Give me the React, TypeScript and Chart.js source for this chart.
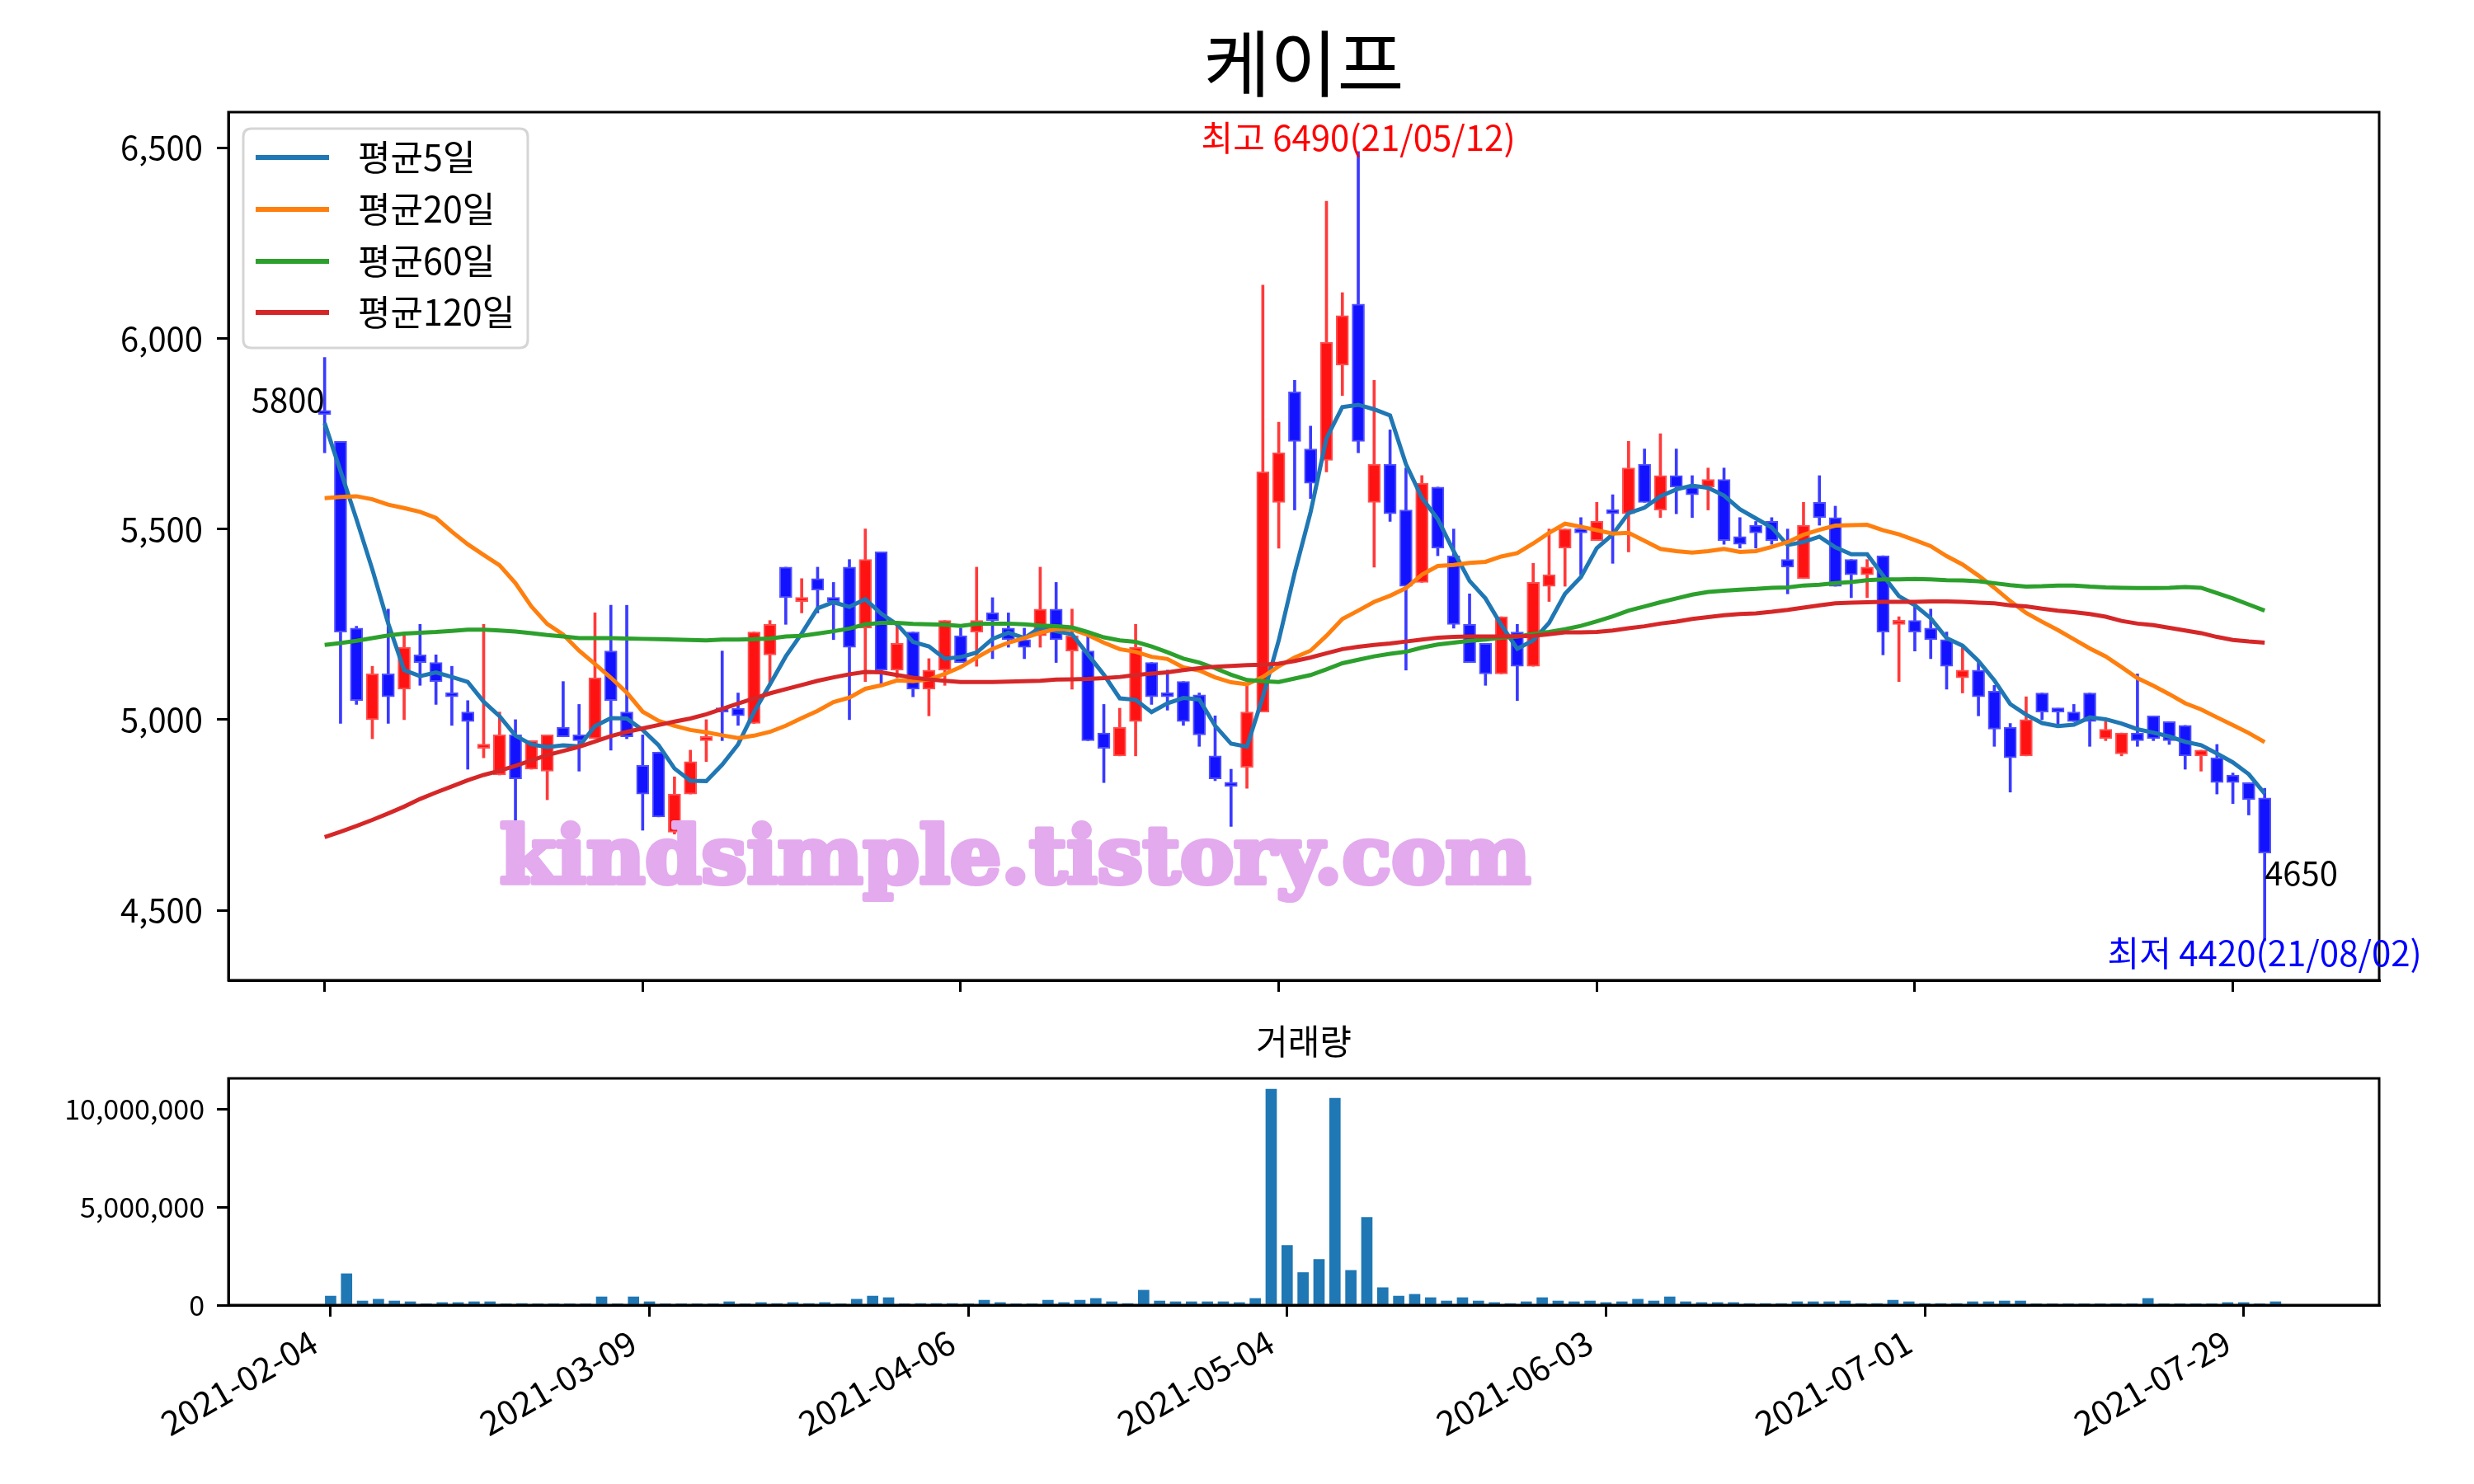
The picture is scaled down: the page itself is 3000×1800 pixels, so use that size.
import React, { useEffect, useRef } from 'react';
import { Chart, registerables } from 'chart.js';

Chart.register(...registerables);

const FONT = "'Noto Sans CJK KR', 'Noto Sans', sans-serif";

const TITLE = '케이프';
const VOLUME_TITLE = '거래량';
const LEGEND_LABELS = ['평균5일', '평균20일', '평균60일', '평균120일'];
const LINE_COLORS = ['#1f77b4', '#ff7f0e', '#2ca02c', '#d62728'];
const HIGH_LABEL = '최고 6490(21/05/12)';
const LOW_LABEL = '최저 4420(21/08/02)';
const HIGH_INDEX = 65;
const LOW_INDEX = 122;
const WATERMARK = 'kindsimple.tistory.com';

const TICK_INDEX = [0, 20, 40, 60, 80, 100, 120];
const TICK_LABELS = ['2021-02-04', '2021-03-09', '2021-04-06', '2021-05-04', '2021-06-03', '2021-07-01', '2021-07-29'];
const PRICE_TICKS = [4500, 5000, 5500, 6000, 6500];
const VOLUME_TICKS = [0, 5000000, 10000000];

const OPEN = [
  5800, 5730, 5240, 5000, 5120, 5080, 5170, 5150, 5065, 5020,
  4925, 4855, 4960, 4870, 4865, 4980, 4960, 4950, 5180, 5020,
  4880, 4915, 4705, 4805, 4945, 5030, 5030, 4990, 5170, 5400,
  5310, 5370, 5310, 5400, 5240, 5440, 5130, 5230, 5080, 5130,
  5220, 5230, 5280, 5240, 5210, 5220, 5290, 5180, 5180, 4965,
  4905, 4995, 5150, 5065, 5100, 5065, 4905, 4830, 4875, 5020,
  5570, 5860, 5710, 5680, 5930, 6090, 5570, 5670, 5550, 5360,
  5610, 5430, 5250, 5200, 5120, 5230, 5140, 5350, 5450, 5500,
  5470, 5540, 5540, 5670, 5550, 5640, 5610, 5610, 5630, 5480,
  5510, 5520, 5420, 5370, 5570, 5530, 5420, 5380, 5430, 5250,
  5260, 5240, 5210, 5110, 5130, 5075, 4980, 4905, 5070, 5020,
  5020, 5070, 4950, 4910, 4965, 5010, 4995, 4985, 4905, 4900,
  4855, 4835, 4795,
];
const HIGH = [
  5950, 5730, 5245, 5140, 5290, 5220, 5250, 5170, 5140, 5050,
  5250, 5020, 5000, 4945, 4960, 5100, 5040, 5280, 5300, 5300,
  4960, 4915, 4850, 4920, 5000, 5180, 5070, 5230, 5260, 5400,
  5370, 5400, 5360, 5420, 5500, 5440, 5250, 5230, 5160, 5260,
  5240, 5400, 5320, 5280, 5240, 5400, 5360, 5290, 5220, 5040,
  5030, 5250, 5150, 5130, 5100, 5070, 5010, 4870, 5090, 6140,
  5780, 5890, 5770, 6360, 6120, 6490, 5890, 5760, 5660, 5640,
  5610, 5500, 5330, 5200, 5270, 5250, 5410, 5500, 5500, 5530,
  5570, 5590, 5730, 5710, 5750, 5710, 5640, 5660, 5660, 5530,
  5520, 5530, 5500, 5570, 5640, 5560, 5420, 5420, 5430, 5270,
  5300, 5290, 5230, 5190, 5150, 5090, 4990, 5060, 5070, 5030,
  5040, 5070, 4995, 4965, 5120, 5010, 4995, 4985, 4920, 4935,
  4860, 4835, 4820,
];
const LOW = [
  5700, 4990, 5040, 4950, 4990, 5000, 5090, 5040, 4985, 4870,
  4900, 4855, 4735, 4870, 4790, 4955, 4865, 4950, 4920, 4950,
  4710, 4745, 4700, 4805, 4890, 4945, 4985, 4990, 5090, 5250,
  5280, 5280, 5210, 5000, 5100, 5090, 5110, 5060, 5010, 5090,
  5150, 5140, 5160, 5190, 5160, 5190, 5150, 5080, 4945, 4835,
  4905, 4905, 5040, 5025, 4985, 4930, 4840, 4720, 4820, 5020,
  5450, 5550, 5580, 5650, 5850, 5700, 5400, 5520, 5130, 5360,
  5430, 5240, 5150, 5090, 5120, 5050, 5140, 5310, 5350, 5380,
  5470, 5410, 5440, 5570, 5530, 5540, 5530, 5550, 5460, 5450,
  5450, 5460, 5330, 5370, 5510, 5350, 5320, 5320, 5170, 5100,
  5180, 5160, 5080, 5070, 5010, 4930, 4810, 4905, 5000, 4980,
  4995, 4930, 4945, 4905, 4930, 4945, 4935, 4870, 4865, 4805,
  4780, 4750, 4420,
];
const CLOSE = [
  5800, 5230, 5050, 5120, 5060, 5190, 5150, 5100, 5060, 4995,
  4930, 4960, 4845, 4945, 4960, 4955, 4945, 5110, 5050, 4955,
  4805, 4745, 4805, 4890, 4950, 5020, 5010, 5230, 5250, 5320,
  5320, 5340, 5310, 5190, 5420, 5130, 5200, 5080, 5130, 5260,
  5150, 5260, 5260, 5210, 5190, 5290, 5210, 5220, 4945, 4925,
  4980, 5190, 5060, 5060, 4995, 4960, 4845, 4825, 5020, 5650,
  5700, 5730, 5620, 5990, 6060, 5730, 5670, 5540, 5350, 5620,
  5450, 5250, 5150, 5120, 5270, 5140, 5360, 5380, 5500, 5490,
  5520, 5540, 5660, 5570, 5640, 5610, 5590, 5630, 5470, 5460,
  5490, 5470, 5400, 5510, 5530, 5350, 5380, 5400, 5230, 5260,
  5230, 5210, 5140, 5130, 5060, 4975, 4900, 5000, 5020, 5020,
  4995, 4995, 4975, 4965, 4945, 4950, 4945, 4905, 4920, 4835,
  4835, 4790, 4650,
];
const VOLUME = [
  460000, 1600000, 210000, 300000, 210000, 170000, 40000, 130000, 130000, 170000,
  170000, 40000, 80000, 15000, 40000, 10000, 10000, 420000, 40000, 420000,
  170000, 10000, 10000, 10000, 40000, 170000, 15000, 130000, 80000, 130000,
  80000, 130000, 40000, 300000, 460000, 380000, 40000, 80000, 80000, 80000,
  40000, 250000, 130000, 10000, 40000, 250000, 130000, 250000, 340000, 170000,
  80000, 760000, 210000, 170000, 170000, 170000, 170000, 130000, 340000, 11010000,
  3040000, 1660000, 2330000, 10550000, 1770000, 4470000, 890000, 460000, 550000, 380000,
  210000, 380000, 210000, 130000, 80000, 170000, 380000, 210000, 170000, 210000,
  130000, 170000, 300000, 210000, 420000, 170000, 130000, 130000, 130000, 80000,
  80000, 80000, 170000, 170000, 170000, 210000, 80000, 80000, 250000, 170000,
  80000, 80000, 80000, 170000, 170000, 210000, 210000, 10000, 10000, 40000,
  40000, 40000, 10000, 10000, 340000, 10000, 40000, 40000, 10000, 130000,
  130000, 40000, 170000,
];
const MA5 = [
  5778, 5652, 5526, 5394, 5252, 5130, 5114, 5124, 5112, 5099,
  5047, 5009, 4958, 4935, 4928, 4933, 4930, 4983, 5004, 5003,
  4973, 4933, 4872, 4840, 4839, 4882, 4935, 5020, 5092, 5166,
  5226, 5292, 5308, 5296, 5316, 5278, 5250, 5204, 5192, 5160,
  5164, 5176, 5212, 5228, 5214, 5242, 5232, 5224, 5171, 5118,
  5056, 5052, 5020, 5043, 5057, 5053, 4984, 4937, 4929, 5060,
  5208, 5385, 5544, 5738, 5820, 5826, 5814, 5798, 5670, 5582,
  5526, 5442, 5364, 5318, 5248, 5186, 5208, 5254, 5330, 5374,
  5450, 5486, 5542, 5556, 5586, 5604, 5614, 5608, 5588, 5552,
  5528, 5504, 5458, 5466, 5480, 5452, 5434, 5434, 5378, 5324,
  5300, 5266, 5214, 5194, 5154, 5103, 5041, 5013, 4991, 4983,
  4987, 5006, 5001, 4990, 4975, 4966, 4956, 4942, 4933, 4911,
  4888, 4857, 4806,
];
const MA20 = [
  5581, 5584, 5586, 5578, 5564, 5555, 5545, 5529, 5493, 5460,
  5432, 5405, 5358, 5297, 5251, 5223, 5181, 5146, 5110, 5071,
  5021, 4997, 4984, 4973, 4967, 4959, 4952, 4958, 4968, 4984,
  5004, 5023, 5046, 5058, 5081, 5090, 5103, 5101, 5105, 5120,
  5138, 5163, 5186, 5202, 5214, 5228, 5238, 5237, 5222, 5202,
  5185, 5178, 5165, 5159, 5137, 5129, 5111, 5098, 5093, 5112,
  5140, 5163, 5181, 5220, 5264, 5286, 5309, 5325, 5345, 5380,
  5403, 5406, 5411, 5414, 5428, 5437, 5462, 5490, 5514, 5506,
  5497, 5488, 5490, 5469, 5448, 5442, 5438, 5442, 5448, 5440,
  5442, 5453, 5466, 5485, 5498, 5509, 5510, 5511, 5497, 5486,
  5471, 5455, 5429, 5407, 5378, 5346, 5311, 5280, 5257, 5235,
  5211, 5187, 5166, 5138, 5109, 5089, 5067, 5043, 5027, 5006,
  4986, 4965, 4941,
];
const MA60 = [
  5196, 5201, 5207, 5214, 5221, 5226, 5228, 5230, 5233, 5236,
  5236, 5234, 5231, 5227, 5222, 5218, 5214, 5214, 5214, 5213,
  5212, 5211, 5210, 5209, 5208, 5210, 5210, 5211, 5213, 5218,
  5220, 5226, 5232, 5239, 5250, 5254, 5254, 5251, 5250, 5249,
  5246, 5251, 5252, 5252, 5250, 5247, 5245, 5242, 5230, 5216,
  5208, 5204, 5192, 5177, 5160, 5150, 5135, 5118, 5104, 5101,
  5099, 5108, 5117, 5132, 5148, 5157, 5166, 5173, 5178, 5189,
  5197, 5202, 5207, 5210, 5215, 5218, 5225, 5230, 5237, 5246,
  5258, 5271, 5286, 5297, 5308, 5318, 5328, 5335, 5338, 5341,
  5343, 5346, 5347, 5352, 5354, 5358, 5361, 5366, 5368, 5368,
  5369, 5368, 5366, 5365, 5363, 5358, 5353, 5349, 5350, 5352,
  5352, 5349, 5347, 5346, 5345, 5345, 5346, 5348, 5346, 5332,
  5318, 5302, 5286,
];
const MA120 = [
  4692, 4706, 4721, 4737, 4754, 4772, 4792, 4809, 4825, 4841,
  4855, 4866, 4879, 4893, 4907, 4918, 4929, 4943, 4957, 4968,
  4977, 4986, 4995, 5003, 5014, 5028, 5042, 5056, 5069, 5080,
  5091, 5102, 5111, 5119, 5125, 5124, 5117, 5110, 5106, 5102,
  5099, 5099, 5099, 5100, 5101, 5102, 5105, 5106, 5107, 5109,
  5112, 5117, 5121, 5124, 5130, 5135, 5139, 5141, 5143, 5144,
  5147, 5154, 5163, 5174, 5185, 5191, 5196, 5200, 5205, 5210,
  5215, 5217, 5218, 5218, 5218, 5219, 5220, 5224, 5229, 5229,
  5230, 5234, 5240, 5245, 5252, 5257, 5264, 5269, 5274, 5277,
  5279, 5283, 5288, 5294, 5300, 5305, 5307, 5308, 5309, 5309,
  5309, 5310, 5310, 5309, 5307, 5305, 5300, 5297, 5291, 5286,
  5282, 5277, 5270, 5259, 5252, 5248, 5241, 5234, 5227, 5217,
  5209, 5205, 5202,
];

const MA_SERIES = [MA5, MA20, MA60, MA120];

const W = 3000;
const MAIN_H = 1230;
const VOL_TOP = 1230;
const VOL_H = 570;
const PLOT_LEFT = 277;
const PLOT_RIGHT_PAD = W - 2885;
const TEXT = 40;

const fmt = (v: number) => Number(v).toLocaleString('en-US');
const isUp = (i: number) => CLOSE[i] > OPEN[i];

const framePlugin = {
  id: 'frame',
  afterDraw(chart: any) {
    const { ctx, chartArea: a } = chart;
    ctx.save();
    ctx.strokeStyle = '#000';
    ctx.lineWidth = 3;
    ctx.strokeRect(a.left, a.top, a.right - a.left, a.bottom - a.top);
    ctx.restore();
  },
};

const mainDecor = {
  id: 'mainDecor',
  afterDraw(chart: any) {
    const { ctx, chartArea: a, scales } = chart;
    const xs = scales.x;
    const ys = scales.y;
    ctx.save();
    // title
    ctx.fillStyle = '#000';
    ctx.font = `88px ${FONT}`;
    ctx.textAlign = 'center';
    ctx.textBaseline = 'middle';
    ctx.fillText(TITLE, (a.left + a.right) / 2, 77);

    // watermark
    ctx.save();
    ctx.font = `bold 96px 'DejaVu Serif'`;
    const w = ctx.measureText(WATERMARK).width;
    ctx.translate(606, 1071);
    ctx.scale(1250 / w, 1);
    ctx.fillStyle = '#e3aaee';
    ctx.strokeStyle = '#e3aaee';
    ctx.lineWidth = 6;
    ctx.lineJoin = 'round';
    ctx.textAlign = 'left';
    ctx.textBaseline = 'alphabetic';
    ctx.strokeText(WATERMARK, 0, 0);
    ctx.fillText(WATERMARK, 0, 0);
    ctx.restore();

    // annotations
    ctx.font = `42px ${FONT}`;
    ctx.fillStyle = '#ff0000';
    ctx.textAlign = 'center';
    ctx.textBaseline = 'bottom';
    ctx.fillText(HIGH_LABEL, xs.getPixelForValue(HIGH_INDEX), ys.getPixelForValue(HIGH[HIGH_INDEX]) + 4);
    ctx.fillStyle = '#0000ff';
    ctx.textBaseline = 'top';
    ctx.fillText(LOW_LABEL, xs.getPixelForValue(LOW_INDEX), ys.getPixelForValue(LOW[LOW_INDEX]) - 6);
    ctx.font = `${TEXT}px ${FONT}`;
    ctx.fillStyle = '#000';
    ctx.textAlign = 'right';
    ctx.textBaseline = 'bottom';
    ctx.fillText(String(CLOSE[0]), xs.getPixelForValue(0), ys.getPixelForValue(CLOSE[0]) + 2);
    ctx.textAlign = 'left';
    ctx.textBaseline = 'top';
    const last = CLOSE.length - 1;
    ctx.fillText(String(CLOSE[last]), xs.getPixelForValue(last), ys.getPixelForValue(CLOSE[last]) + 4);

    // legend
    const bx = 295, by = 156, bw = 345, bh = 266, r = 10;
    ctx.beginPath();
    ctx.moveTo(bx + r, by);
    ctx.lineTo(bx + bw - r, by);
    ctx.quadraticCurveTo(bx + bw, by, bx + bw, by + r);
    ctx.lineTo(bx + bw, by + bh - r);
    ctx.quadraticCurveTo(bx + bw, by + bh, bx + bw - r, by + bh);
    ctx.lineTo(bx + r, by + bh);
    ctx.quadraticCurveTo(bx, by + bh, bx, by + bh - r);
    ctx.lineTo(bx, by + r);
    ctx.quadraticCurveTo(bx, by, bx + r, by);
    ctx.closePath();
    ctx.fillStyle = 'rgba(255,255,255,0.8)';
    ctx.fill();
    ctx.strokeStyle = '#d5d5d5';
    ctx.lineWidth = 3;
    ctx.stroke();
    const rows = [191, 254, 317, 379];
    LEGEND_LABELS.forEach((lab, k) => {
      ctx.strokeStyle = LINE_COLORS[k];
      ctx.lineWidth = 6;
      ctx.beginPath();
      ctx.moveTo(310, rows[k]);
      ctx.lineTo(399, rows[k]);
      ctx.stroke();
      ctx.fillStyle = '#000';
      ctx.font = `43px ${FONT}`;
      ctx.textAlign = 'left';
      ctx.textBaseline = 'middle';
      ctx.fillText(lab, 434, rows[k]);
    });
    ctx.restore();
  },
};

const volDecor = {
  id: 'volDecor',
  afterDraw(chart: any) {
    const { ctx, chartArea: a } = chart;
    ctx.save();
    ctx.fillStyle = '#000';
    ctx.font = `42px ${FONT}`;
    ctx.textAlign = 'center';
    ctx.textBaseline = 'middle';
    ctx.fillText(VOLUME_TITLE, (a.left + a.right) / 2, 33);
    ctx.restore();
  },
};

const axisGrid = {
  display: true,
  drawOnChartArea: false,
  drawTicks: true,
  tickLength: 14,
  tickWidth: 3,
  tickColor: '#000',
  color: '#000',
  lineWidth: 3,
  offset: false,
};
const axisBorder = { display: true, color: '#000', width: 3 };

export default function App() {
  const mainRef = useRef<HTMLCanvasElement>(null);
  const volRef = useRef<HTMLCanvasElement>(null);

  useEffect(() => {
    Chart.defaults.font.family = FONT;
    const idx = CLOSE.map((_, i) => i);

    const lineSets = MA_SERIES.map((s, k) => ({
      type: 'line' as const,
      label: LEGEND_LABELS[k],
      data: s.map((v, i) => ({ x: i, y: v })),
      borderColor: LINE_COLORS[k],
      borderWidth: 5,
      pointRadius: 0,
      tension: 0,
      fill: false,
      order: 4 - k,
    }));

    const main = new Chart(mainRef.current!, {
      type: 'bar',
      data: {
        datasets: [
          ...lineSets,
          {
            type: 'bar',
            label: 'wick',
            data: idx.map((i) => ({ x: i, y: [LOW[i], HIGH[i]] })),
            backgroundColor: idx.map((i) => (isUp(i) ? '#ff3a3a' : '#3a3aff')),
            barThickness: 3,
            grouped: false,
            order: 30,
          } as any,
          {
            type: 'bar',
            label: 'body',
            data: idx.map((i) => ({ x: i, y: [OPEN[i], CLOSE[i]] })),
            backgroundColor: idx.map((i) => (isUp(i) ? '#ff1212' : '#1212ff')),
            borderColor: idx.map((i) => (isUp(i) ? '#ff5050' : '#5050ff')),
            borderWidth: 2,
            borderSkipped: false,
            barThickness: 15,
            minBarLength: 5,
            grouped: false,
            order: 20,
          } as any,
        ],
      },
      options: {
        responsive: false,
        animation: false,
        devicePixelRatio: 1,
        layout: { padding: { top: 136, right: PLOT_RIGHT_PAD, left: 0, bottom: 0 } },
        plugins: { legend: { display: false }, tooltip: { enabled: false }, title: { display: false } },
        scales: {
          x: {
            type: 'linear',
            min: -6.05,
            max: 129.2,
            offset: false,
            grid: axisGrid as any,
            border: axisBorder,
            ticks: { callback: () => '', autoSkip: false, font: { size: TEXT } },
            afterBuildTicks: (s: any) => {
              s.ticks = TICK_INDEX.map((v) => ({ value: v }));
            },
            afterFit: (s: any) => {
              s.height = MAIN_H - 1192;
            },
          },
          y: {
            type: 'linear',
            min: 4316.5,
            max: 6593.5,
            grid: axisGrid as any,
            border: axisBorder,
            ticks: { font: { size: TEXT }, color: '#000', padding: 17, callback: (v: any) => fmt(v) },
            afterBuildTicks: (s: any) => {
              s.ticks = PRICE_TICKS.map((v) => ({ value: v }));
            },
            afterFit: (s: any) => {
              s.width = PLOT_LEFT;
            },
          },
        },
      } as any,
      plugins: [framePlugin, mainDecor],
    });

    const vol = new Chart(volRef.current!, {
      type: 'bar',
      data: {
        datasets: [
          {
            label: VOLUME_TITLE,
            data: idx.map((i) => ({ x: i, y: VOLUME[i] })),
            backgroundColor: '#1f77b4',
            barThickness: 13,
            grouped: false,
          } as any,
        ],
      },
      options: {
        responsive: false,
        animation: false,
        devicePixelRatio: 1,
        layout: { padding: { top: 78, right: PLOT_RIGHT_PAD, left: 0, bottom: 0 } },
        plugins: { legend: { display: false }, tooltip: { enabled: false } },
        scales: {
          x: {
            type: 'linear',
            min: -6.41,
            max: 128.5,
            offset: false,
            grid: axisGrid as any,
            border: axisBorder,
            ticks: {
              autoSkip: false,
              minRotation: 30,
              maxRotation: 30,
              padding: 6,
              labelOffset: -20,
              color: '#000',
              font: { size: 41 },
              callback: (v: any) => {
                const k = TICK_INDEX.indexOf(Number(v));
                return k >= 0 ? TICK_LABELS[k] : '';
              },
            },
            afterBuildTicks: (s: any) => {
              s.ticks = TICK_INDEX.map((v) => ({ value: v }));
            },
            afterFit: (s: any) => {
              s.height = VOL_H - (1583 - VOL_TOP);
            },
          },
          y: {
            type: 'linear',
            min: 0,
            max: 11560000,
            grid: axisGrid as any,
            border: axisBorder,
            ticks: { font: { size: 34 }, color: '#000', padding: 15, callback: (v: any) => fmt(v) },
            afterBuildTicks: (s: any) => {
              s.ticks = VOLUME_TICKS.map((v) => ({ value: v }));
            },
            afterFit: (s: any) => {
              s.width = PLOT_LEFT;
            },
          },
        },
      } as any,
      plugins: [framePlugin, volDecor],
    });

    return () => {
      main.destroy();
      vol.destroy();
    };
  }, []);

  return (
    <div style={{ position: 'absolute', left: 0, top: 0, width: W, height: 1800, background: '#fff' }}>
      <canvas ref={mainRef} width={W} height={MAIN_H} style={{ position: 'absolute', left: 0, top: 0 }} />
      <canvas ref={volRef} width={W} height={VOL_H} style={{ position: 'absolute', left: 0, top: VOL_TOP }} />
    </div>
  );
}
